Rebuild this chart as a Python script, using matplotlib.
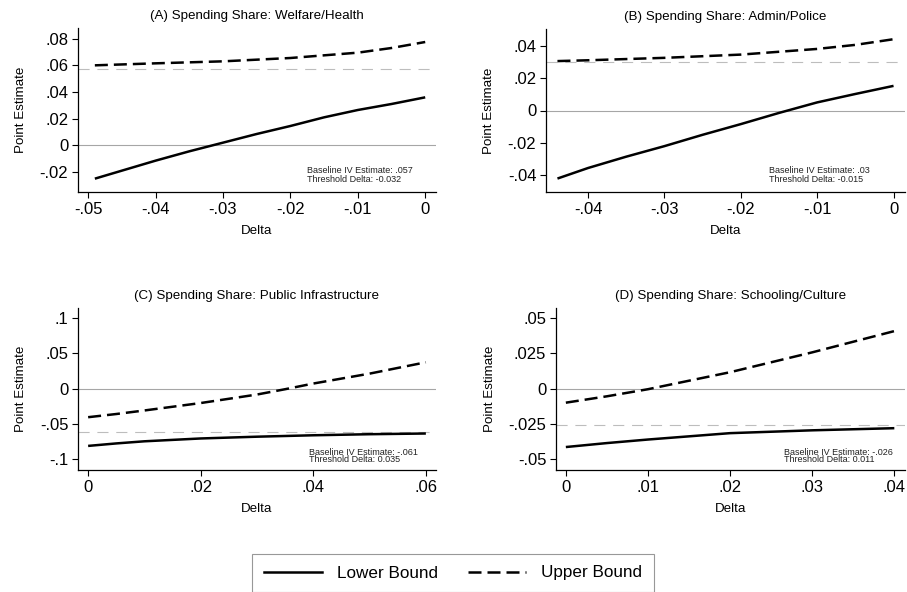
import matplotlib
matplotlib.use("Agg")
import matplotlib.pyplot as plt

plt.rcParams['font.family'] = ['Liberation Sans', 'DejaVu Sans']

# panel data
titles = ['(A) Spending Share: Welfare/Health',
          '(B) Spending Share: Admin/Police',
          '(C) Spending Share: Public Infrastructure',
          '(D) Spending Share: Schooling/Culture']

a_delta_lo = [-0.049, -0.045, -0.04, -0.035, -0.03, -0.025, -0.02, -0.015, -0.01, -0.005, 0.0]
a_lower = [-0.025, -0.019, -0.0115, -0.0045, 0.002, 0.0085, 0.0145, 0.021, 0.0265, 0.031, 0.036]
a_delta_up = [-0.049, -0.04, -0.03, -0.02, -0.01, -0.005, 0.0]
a_upper = [0.060, 0.0615, 0.063, 0.0655, 0.0695, 0.073, 0.0775]

b_delta_lo = [-0.044, -0.04, -0.035, -0.03, -0.025, -0.02, -0.015, -0.01, -0.005, 0.0]
b_lower = [-0.042, -0.0355, -0.0285, -0.0220, -0.0150, -0.0084, -0.0015, 0.0050, 0.0102, 0.0152]
b_delta_up = [-0.044, -0.04, -0.03, -0.02, -0.01, -0.005, 0.0]
b_upper = [0.0305, 0.031, 0.0325, 0.0345, 0.038, 0.0405, 0.044]

c_delta = [0.0, 0.005, 0.01, 0.02, 0.03, 0.035, 0.04, 0.05, 0.06]
c_lower = [-0.081, -0.0775, -0.0745, -0.0705, -0.068, -0.067, -0.066, -0.0645, -0.0635]
c_upper = [-0.0405, -0.036, -0.031, -0.0205, -0.0085, -0.001, 0.007, 0.021, 0.037]

d_delta = [0.0, 0.005, 0.01, 0.02, 0.03, 0.04]
d_lower = [-0.0413, -0.0385, -0.0360, -0.0315, -0.0295, -0.0280]
d_upper = [-0.010, -0.0055, -0.0005, 0.0115, 0.0255, 0.0405]

baselines = [0.057, 0.03, -0.061, -0.026]
notes = [('Baseline IV Estimate: .057', 'Threshold Delta: -0.032'),
         ('Baseline IV Estimate: .03', 'Threshold Delta: -0.015'),
         ('Baseline IV Estimate: -.061', 'Threshold Delta: 0.035'),
         ('Baseline IV Estimate: -.026', 'Threshold Delta: 0.011')]

xticks = [[-0.05, -0.04, -0.03, -0.02, -0.01, 0.0],
          [-0.04, -0.03, -0.02, -0.01, 0.0],
          [0.0, 0.02, 0.04, 0.06],
          [0.0, 0.01, 0.02, 0.03, 0.04]]
xticklabels = [['-.05', '-.04', '-.03', '-.02', '-.01', '0'],
               ['-.04', '-.03', '-.02', '-.01', '0'],
               ['0', '.02', '.04', '.06'],
               ['0', '.01', '.02', '.03', '.04']]
yticks = [[-0.02, 0.0, 0.02, 0.04, 0.06, 0.08],
          [-0.04, -0.02, 0.0, 0.02, 0.04],
          [-0.1, -0.05, 0.0, 0.05, 0.1],
          [-0.05, -0.025, 0.0, 0.025, 0.05]]
yticklabels = [['-.02', '0', '.02', '.04', '.06', '.08'],
               ['-.04', '-.02', '0', '.02', '.04'],
               ['-.1', '-.05', '0', '.05', '.1'],
               ['-.05', '-.025', '0', '.025', '.05']]

lowers = [(a_delta_lo, a_lower), (b_delta_lo, b_lower), (c_delta, c_lower), (d_delta, d_lower)]
uppers = [(a_delta_up, a_upper), (b_delta_up, b_upper), (c_delta, c_upper), (d_delta, d_upper)]

xlims = [(-0.0515, 0.0016), (-0.0455, 0.0015), (-0.0018, 0.0618), (-0.0012, 0.0413)]
ylims = [(-0.035, 0.088), (-0.0503, 0.0503), (-0.115, 0.1136), (-0.0575, 0.0568)]
# note anchor (x, y centre of the two-line block) and line spacing
note_pos = [(-0.0175, -0.0219, 1.0), (-0.0163, -0.0397, 1.0),
            (0.0392, -0.0954, 0.78), (0.0266, -0.0476, 0.82)]

W, H = 907, 592
boxes = [(78, 28, 436, 192), (546, 29, 905, 192), (78, 308, 436, 470), (556, 308, 905, 470)]

fig = plt.figure(figsize=(W / 100, H / 100), dpi=100)

for i in range(4):
    x0, y0, x1, y1 = boxes[i]
    ax = fig.add_axes([x0 / W, 1 - y1 / H, (x1 - x0) / W, (y1 - y0) / H])
    ax.axhline(0, color='#a6a6a6', lw=0.8, zorder=1)
    ax.axhline(baselines[i], color='#bdbdbd', lw=0.8, ls=(0, (10, 7)), zorder=1)
    lx, ly = lowers[i]
    ux, uy = uppers[i]
    ax.plot(lx, ly, color='black', lw=1.8, solid_capstyle='butt', zorder=3)
    ax.plot(ux, uy, color='black', lw=1.8, ls=(0, (5.2, 2.4)), zorder=3)
    ax.set_xlim(*xlims[i])
    ax.set_ylim(*ylims[i])
    ax.set_xticks(xticks[i])
    ax.set_xticklabels(xticklabels[i])
    ax.set_yticks(yticks[i])
    ax.set_yticklabels(yticklabels[i])
    ax.tick_params(direction='out', length=4.5, width=0.8, labelsize=12, pad=2.5)
    for s in ['top', 'right']:
        ax.spines[s].set_visible(False)
    for s in ['left', 'bottom']:
        ax.spines[s].set_linewidth(0.9)
    ax.set_title(titles[i], fontsize=9.6, pad=6.5)
    ax.set_xlabel('Delta', fontsize=9.6, labelpad=6)
    ax.set_ylabel('Point Estimate', fontsize=9.6, labelpad=9)
    nx, ny, sp = note_pos[i]
    ax.text(nx, ny, notes[i][0] + '\n' + notes[i][1], fontsize=6.5, va='center', ha='left',
            linespacing=sp, color='#222222', clip_on=False)

handles = [plt.Line2D([], [], color='black', lw=1.8),
           plt.Line2D([], [], color='black', lw=1.8, ls=(0, (5.2, 2.4)))]
leg = fig.legend(handles, ['Lower Bound', 'Upper Bound'], loc='center',
                 bbox_to_anchor=(453 / W, 1 - 573 / H), ncol=2, fontsize=12.3,
                 frameon=True, fancybox=False, handlelength=3.4, handletextpad=0.85,
                 columnspacing=1.8, borderpad=0.7, borderaxespad=0)
leg.get_frame().set_edgecolor('#7f7f7f')
leg.get_frame().set_linewidth(0.8)

fig.savefig('out.png', dpi=100)
